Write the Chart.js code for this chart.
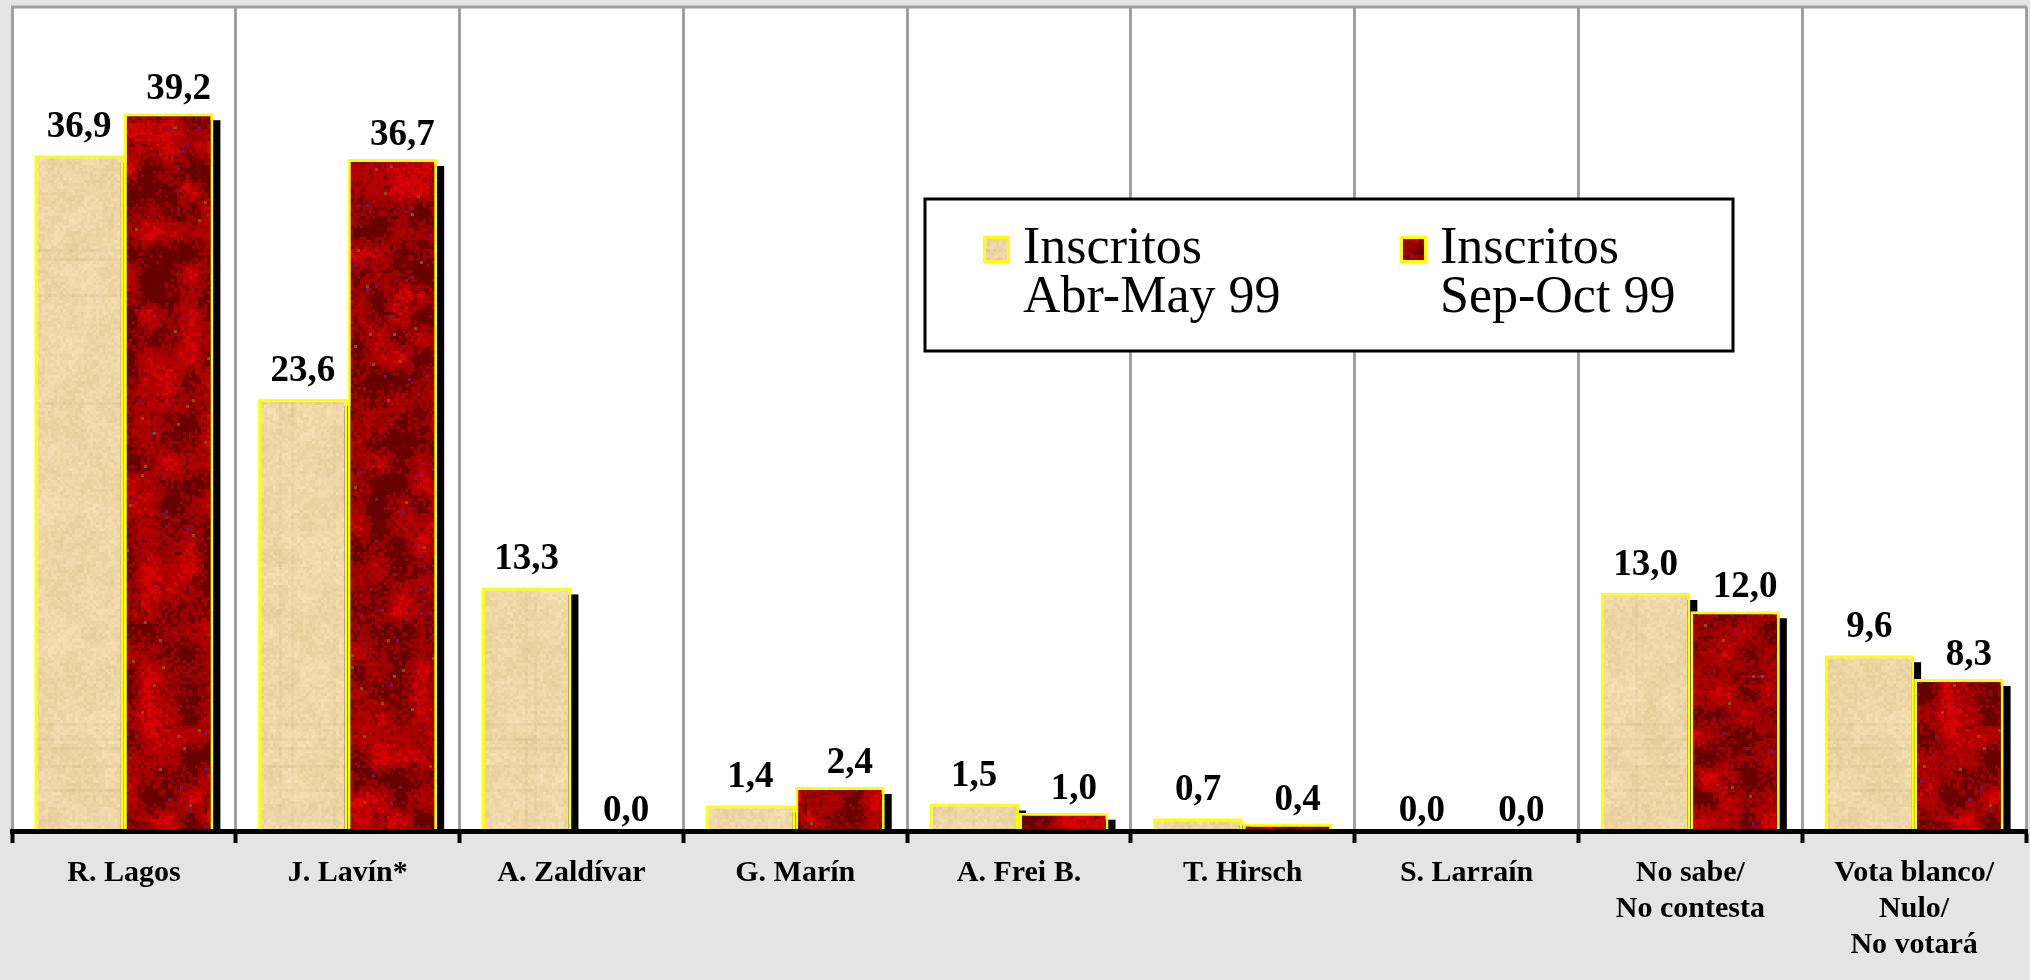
<!DOCTYPE html>
<html>
<head>
<meta charset="utf-8">
<script src="https://cdn.jsdelivr.net/npm/chart.js@4"></script>
<style>
  html, body { margin: 0; padding: 0; background: #e4e4e4; }
</style>
</head>
<body>
<canvas id="myChart" width="2030" height="980"></canvas>
<script>
// data
const categories = [
    'R. Lagos', 'J. Lavín*', 'A. Zaldívar', 'G. Marín', 'A. Frei B.',
    'T. Hirsch', 'S. Larraín', ['No sabe/', 'No contesta'], ['Vota blanco/', 'Nulo/', 'No votará']
];
const seriesNames = ['Inscritos\nAbr-May 99', 'Inscritos\nSep-Oct 99'];
const abrMay = [36.9, 23.6, 13.3, 1.4, 1.5, 0.7, 0.0, 13.0, 9.6];
const sepOct = [39.2, 36.7, 0.0, 2.4, 1.0, 0.4, 0.0, 12.0, 8.3];
const yMin = 0;
const yMax = 45;

// texture helpers (papyrus / granite look of the original fills)
function hash(x, y, s) {
    const h = Math.sin(x * 127.1 + y * 311.7 + s * 74.7) * 43758.5453;
    return h - Math.floor(h);
}
function noise(x, y, cell, s) {
    const gx = Math.floor(x / cell), gy = Math.floor(y / cell);
    const fx = x / cell - gx, fy = y / cell - gy;
    const a = hash(gx, gy, s), b = hash(gx + 1, gy, s);
    const c = hash(gx, gy + 1, s), d = hash(gx + 1, gy + 1, s);
    const ux = fx * fx * (3 - 2 * fx), uy = fy * fy * (3 - 2 * fy);
    return a + (b - a) * ux + (c - a) * uy + (a - b - c + d) * ux * uy;
}

function makeTexture(kind) {
    const cv = document.createElement('canvas');
    cv.width = 600; cv.height = 900;
    const c = cv.getContext('2d');
    const px = 3;
    for (let j = 0; j < cv.height / px; j++) {
        const streak = hash(0, j, 9) < 0.05 ? -7 : 0;
        for (let i = 0; i < cv.width / px; i++) {
            let r, g, b;
            if (kind === 'tan') {
                const v = 0.55 * hash(i, j, 1) + 0.45 * noise(i, j, 6, 2);
                const fib = hash(i, 0, 8) < 0.06 ? -5 : 0;
                r = 228 + 20 * v + streak + fib; g = 203 + 24 * v + streak + fib; b = 150 + 34 * v + streak + fib;
            } else {
                const n = 0.7 * noise(i, j, 7, 3) + 0.3 * hash(i, j, 4);
                if (n < 0.36) { r = 105; g = 0; b = 0; }
                else if (n < 0.6) { r = hash(i, j, 5) < 0.3 ? 125 : 160; g = 0; b = 0; }
                else if (n < 0.78) { r = 180; g = 0; b = 0; }
                else { r = 215; g = 0; b = 4; }
                const sp = hash(i, j, 6);
                if (sp < 0.006) { r = 120; g = 20; b = 90; }
                else if (sp > 0.995) { r = 140; g = 80; b = 10; }
            }
            c.fillStyle = 'rgb(' + Math.round(r) + ',' + Math.round(g) + ',' + Math.round(b) + ')';
            c.fillRect(i * px, j * px, px, px);
        }
    }
    return c.createPattern(cv, 'repeat');
}

const ctx = document.getElementById('myChart').getContext('2d');
const tanFill = makeTexture('tan');
const redFill = makeTexture('red');

const fmt = v => v.toFixed(1).replace('.', ',');

// grey page, white plot area with grey top frame
const backdrop = {
    id: 'backdrop',
    beforeDraw(chart) {
        const c = chart.ctx, a = chart.chartArea;
        c.save();
        c.fillStyle = '#e4e4e4';
        c.fillRect(0, 0, chart.width, chart.height);
        c.fillStyle = '#fff';
        c.fillRect(a.left, a.top, a.right - a.left, a.bottom - a.top);
        c.strokeStyle = '#a0a0a0';
        c.lineWidth = 3;
        c.beginPath();
        c.moveTo(a.left - 1, a.top);
        c.lineTo(a.right + 1, a.top);
        c.stroke();
        c.restore();
    }
};

// black drop shadow behind every bar
const barShadow = {
    id: 'barShadow',
    beforeDatasetsDraw(chart) {
        const c = chart.ctx, a = chart.chartArea;
        c.save();
        c.beginPath();
        c.rect(a.left, a.top, a.right - a.left, a.bottom - a.top);
        c.clip();
        c.fillStyle = '#000';
        chart.data.datasets.forEach((ds, i) => {
            chart.getDatasetMeta(i).data.forEach(el => {
                const p = el.getProps(['x', 'y', 'base', 'width'], true);
                if (p.base - p.y < 1) return;
                c.fillRect(p.x - p.width / 2 + 7, p.y + 7, p.width, p.base - p.y);
            });
        });
        c.restore();
    }
};

// value labels above the bars
const valueLabels = {
    id: 'valueLabels',
    afterDatasetsDraw(chart) {
        const c = chart.ctx;
        c.save();
        c.font = 'bold 37px "Liberation Serif", "Times New Roman", serif';
        c.fillStyle = '#000';
        c.textAlign = 'center';
        c.textBaseline = 'alphabetic';
        chart.data.datasets.forEach((ds, i) => {
            const dx = i === 0 ? 0 : 10;
            chart.getDatasetMeta(i).data.forEach((el, k) => {
                const v = ds.data[k];
                const gap = v === 0 ? 10 : (i === 0 ? 18 : 14);
                c.fillText(fmt(v), el.x + dx, el.y - gap);
            });
        });
        c.restore();
    }
};

// boxed legend with two-line entries
const boxLegend = {
    id: 'boxLegend',
    afterDraw(chart) {
        const c = chart.ctx;
        const box = { x: 925, y: 199, w: 808, h: 152 };
        c.save();
        c.fillStyle = '#fff';
        c.fillRect(box.x, box.y, box.w, box.h);
        c.strokeStyle = '#000';
        c.lineWidth = 3;
        c.strokeRect(box.x, box.y, box.w, box.h);
        const itemX = [983, 1400];
        c.font = '52px "Liberation Serif", "Times New Roman", serif';
        c.textAlign = 'left';
        c.textBaseline = 'alphabetic';
        chart.data.datasets.forEach((ds, i) => {
            const x = itemX[i];
            c.fillStyle = ds.backgroundColor;
            c.fillRect(x, 237, 25, 25);
            c.strokeStyle = '#ffff00';
            c.lineWidth = 3;
            c.strokeRect(x + 1.5, 237.5, 24, 24);
            c.fillStyle = '#000';
            ds.label.split('\n').forEach((line, n) => {
                c.fillText(line, x + 40, 263 + n * 49);
            });
        });
        c.restore();
    }
};

const myChart = new Chart(ctx, {
    type: 'bar',
    data: {
        labels: categories,
        datasets: [
            {
                label: seriesNames[0],
                data: abrMay,
                backgroundColor: tanFill,
                borderColor: '#ffff00',
                borderWidth: 3,
                categoryPercentage: 0.8,
                barPercentage: 1.0
            },
            {
                label: seriesNames[1],
                data: sepOct,
                backgroundColor: redFill,
                borderColor: '#ffff00',
                borderWidth: 3,
                categoryPercentage: 0.8,
                barPercentage: 1.0
            }
        ]
    },
    options: {
        responsive: false,
        animation: false,
        devicePixelRatio: 1,
        layout: { padding: { left: 12, right: 4, top: 7, bottom: 0 } },
        plugins: {
            legend: { display: false },
            tooltip: { enabled: false }
        },
        scales: {
            x: {
                offset: true,
                grid: {
                    offset: true,
                    color: '#a0a0a0',
                    lineWidth: 3,
                    drawTicks: true,
                    tickLength: 12,
                    tickWidth: 4,
                    tickColor: '#000'
                },
                border: { display: true, color: '#000', width: 5, z: 1 },
                ticks: {
                    color: '#000',
                    font: { family: '"Liberation Serif", "Times New Roman", serif', size: 30, weight: 'bold', lineHeight: 1.2 },
                    padding: 12,
                    maxRotation: 0,
                    autoSkip: false
                },
                afterFit(scale) { scale.height = 149; }
            },
            y: {
                display: false,
                min: yMin,
                max: yMax
            }
        }
    },
    plugins: [backdrop, barShadow, valueLabels, boxLegend]
});
</script>
</body>
</html>
